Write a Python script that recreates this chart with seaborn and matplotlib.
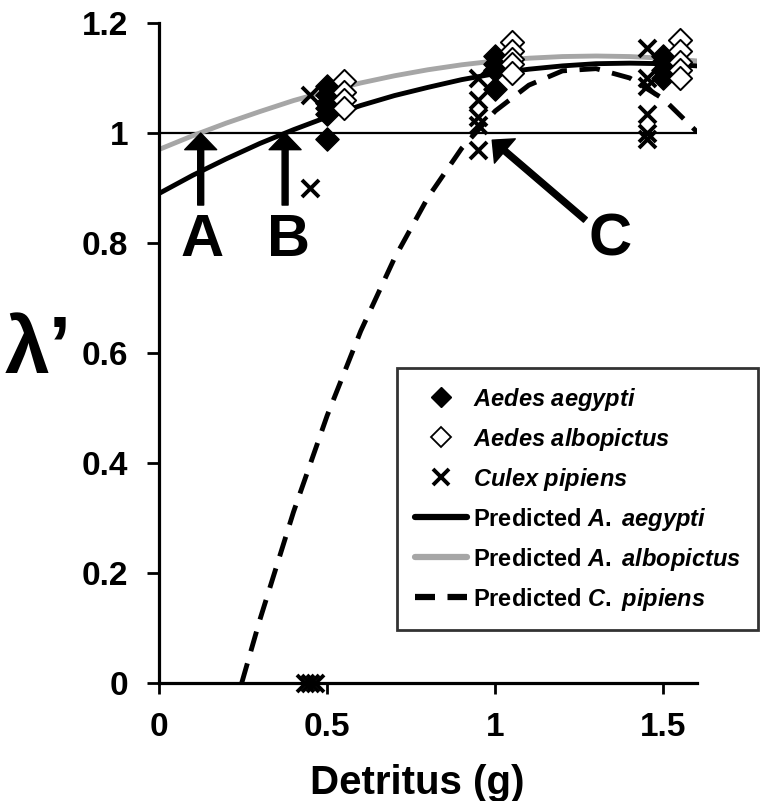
import matplotlib
matplotlib.use('Agg')
import matplotlib.pyplot as plt
import numpy as np
import pandas as pd
import seaborn as sns
from matplotlib.lines import Line2D

# observed lambda' per container (species drawn with small x offsets)
aegypti_x = [0.5] * 6 + [1.0] * 4 + [1.5] * 4
aegypti_y = [1.085, 1.07, 1.055, 1.045, 1.035, 0.99,
             1.14, 1.125, 1.115, 1.08,
             1.14, 1.13, 1.115, 1.10]

albopictus_x = [0.55] * 4 + [1.05] * 5 + [1.55] * 5
albopictus_y = [1.095, 1.075, 1.06, 1.045,
                1.165, 1.15, 1.135, 1.125, 1.11,
                1.17, 1.15, 1.13, 1.115, 1.10]

pipiens_x = [0.45, 0.45, 0.435, 0.45, 0.465] + [0.95] * 5 + [1.45] * 6
pipiens_y = [1.07, 0.90, 0, 0, 0,
             1.10, 1.06, 1.03, 1.015, 0.97,
             1.155, 1.10, 1.085, 1.035, 1.0, 0.99]

# predicted curves
curve_x = [0, 0.1, 0.2, 0.3, 0.4, 0.5, 0.6, 0.7, 0.8,
           0.9, 1.0, 1.1, 1.2, 1.3, 1.4, 1.5, 1.6]
pred_aegypti = [0.890, 0.923, 0.953, 0.981, 1.006, 1.029, 1.050, 1.068, 1.083,
                1.097, 1.108, 1.116, 1.122, 1.126, 1.127, 1.126, 1.122]
pred_albopictus = [0.970, 0.995, 1.018, 1.039, 1.059, 1.076, 1.091, 1.104, 1.115,
                   1.124, 1.131, 1.136, 1.139, 1.140, 1.139, 1.136, 1.131]
pipiens_curve_x = [0.246, 0.3, 0.4, 0.5, 0.6, 0.7, 0.8, 0.9,
                   1.0, 1.1, 1.2, 1.3, 1.4, 1.5, 1.6]
pred_pipiens = [0.0, 0.115, 0.311, 0.486, 0.640, 0.772, 0.883, 0.972,
                1.040, 1.087, 1.113, 1.117, 1.100, 1.062, 1.002]

x_ticks = [0, 0.5, 1, 1.5]
x_tick_labels = ['0', '0.5', '1', '1.5']
y_ticks = [0, 0.2, 0.4, 0.6, 0.8, 1.0, 1.2]
y_tick_labels = ['0', '0.2', '0.4', '0.6', '0.8', '1', '1.2']

sns.set_style('ticks')
plt.rcParams['font.family'] = ['Liberation Sans', 'DejaVu Sans']
plt.rcParams['font.weight'] = 'bold'
plt.rcParams['text.color'] = 'black'
plt.rcParams['axes.labelcolor'] = 'black'
plt.rcParams['xtick.color'] = 'black'
plt.rcParams['ytick.color'] = 'black'
plt.rcParams['mathtext.fontset'] = 'custom'
plt.rcParams['mathtext.it'] = 'Liberation Sans:italic:bold'
plt.rcParams['mathtext.rm'] = 'Liberation Sans:bold'

fig = plt.figure(figsize=(7.63, 8.01), dpi=100)
ax = fig.add_axes([159 / 763, 1 - 683 / 801, 538 / 763, 660 / 801])

ax.axhline(1.0, color='black', lw=1.6, zorder=1)

sns.lineplot(x=curve_x, y=pred_albopictus, ax=ax, color='#a6a6a6', lw=3.5,
             estimator=None, zorder=2)
sns.lineplot(x=curve_x, y=pred_aegypti, ax=ax, color='black', lw=3.5,
             estimator=None, zorder=2)
sns.lineplot(x=pipiens_curve_x, y=pred_pipiens, ax=ax, color='black', lw=3.5,
             estimator=None, zorder=2)
ax.lines[-1].set_dashes((4.2, 2.6))

sns.scatterplot(x=aegypti_x, y=aegypti_y, ax=ax, marker='D', s=140,
                color='black', edgecolor='black', linewidth=1, zorder=3, clip_on=False)
sns.scatterplot(x=albopictus_x, y=albopictus_y, ax=ax, marker='D', s=140,
                facecolor='white', edgecolor='black', linewidth=1.4, zorder=3, clip_on=False)
sns.scatterplot(x=pipiens_x, y=pipiens_y, ax=ax, marker='x', s=150,
                color='black', linewidth=2.8, zorder=3, clip_on=False)

# arrows A, B, C
arrow_kw = dict(facecolor='black', edgecolor='black', width=4.3, headwidth=23,
                headlength=12, shrink=0)
ax.annotate('', xy=(0.124, 1.0), xytext=(0.124, 0.869), arrowprops=arrow_kw)
ax.annotate('', xy=(0.375, 1.0), xytext=(0.375, 0.869), arrowprops=arrow_kw)
ax.annotate('', xy=(0.991, 0.987), xytext=(1.268, 0.842), arrowprops=arrow_kw)
for letter, lx in [('A', 0.127), ('B', 0.385), ('C', 1.34)]:
    ax.text(lx, 0.805, letter, fontsize=43, fontweight='bold', ha='center', va='center')

ax.set_xlim(0, 1.6)
ax.set_ylim(0, 1.2)
ax.set_xticks(x_ticks, x_tick_labels)
ax.set_yticks(y_ticks, y_tick_labels)
ax.tick_params(axis='both', labelsize=24, width=2, color='black',
               labelcolor='black', pad=13)
ax.tick_params(axis='y', length=9)
ax.tick_params(axis='x', length=8)
for t in ax.get_xticklabels() + ax.get_yticklabels():
    t.set_fontweight('bold')
sns.despine(ax=ax)
for sp in ['left', 'bottom']:
    ax.spines[sp].set_linewidth(2.3)
    ax.spines[sp].set_color('black')
ax.set_xlabel('')
ax.set_ylabel('')

fig.text(417 / 763, 1 - 794 / 801, 'Detritus (g)', fontsize=29, fontweight='bold',
         ha='center', va='baseline')
fig.text(38 / 763, 1 - 352 / 801, 'λ’', fontsize=58, fontweight='bold',
         ha='center', va='center')

handles = [
    Line2D([], [], ls='none', marker='D', ms=10, mfc='black', mec='black'),
    Line2D([], [], ls='none', marker='D', ms=10, mfc='white', mec='black', mew=1.3),
    Line2D([], [], ls='none', marker='x', ms=11, mec='black', mew=2.8),
    Line2D([], [], color='black', lw=4.5),
    Line2D([], [], color='#a6a6a6', lw=4.5),
    Line2D([], [], color='black', lw=4.5, dashes=(3.2, 2.0)),
]
labels = [r'$\it{Aedes}$ $\it{aegypti}$', r'$\it{Aedes}$ $\it{albopictus}$',
          r'$\it{Culex}$ $\it{pipiens}$',
          r'Predicted $\it{A.}$ $\it{aegypti}$', r'Predicted $\it{A.}$ $\it{albopictus}$',
          r'Predicted $\it{C.}$ $\it{pipiens}$']
leg = fig.legend(handles, labels, loc='upper left',
                 bbox_to_anchor=(397 / 763, 1 - 368 / 801), borderaxespad=0,
                 frameon=True, fancybox=False, edgecolor='black',
                 prop={'size': 17, 'weight': 'bold'}, handlelength=2.2,
                 handletextpad=0.25, labelspacing=0.55, borderpad=0.75)
leg.get_frame().set_linewidth(2)

fig.savefig('out.png', dpi=100)
